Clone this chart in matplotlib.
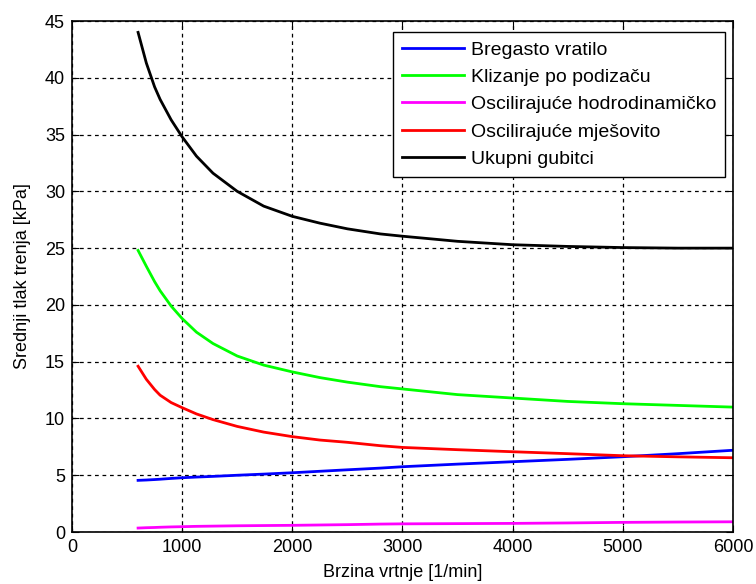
import matplotlib
matplotlib.use('Agg')
import matplotlib.pyplot as plt

plt.rcParams['font.family'] = ['Liberation Sans', 'DejaVu Sans']

rpm = [600, 675, 750, 800, 900, 1000, 1130, 1280, 1500, 1740, 2000, 2250, 2500, 2800,
       3000, 3500, 4000, 4500, 5000, 5500, 6000]

bregasto = [4.55, 4.58, 4.62, 4.65, 4.72, 4.78, 4.84, 4.9, 5.0, 5.1, 5.22, 5.35, 5.48, 5.63,
            5.75, 5.98, 6.19, 6.4, 6.63, 6.9, 7.2]
klizanje = [24.8, 23.4, 22.05, 21.25, 19.9, 18.8, 17.6, 16.6, 15.5, 14.7, 14.1, 13.6, 13.2, 12.8,
            12.6, 12.1, 11.8, 11.5, 11.3, 11.15, 11.0]
osc_hidro = [0.35, 0.38, 0.4, 0.42, 0.45, 0.47, 0.5, 0.52, 0.55, 0.57, 0.59, 0.62, 0.65, 0.7,
             0.72, 0.74, 0.76, 0.8, 0.85, 0.88, 0.9]
osc_mjes = [14.6, 13.45, 12.55, 12.05, 11.4, 10.95, 10.4, 9.9, 9.3, 8.8, 8.4, 8.1, 7.9, 7.6,
            7.45, 7.25, 7.07, 6.9, 6.72, 6.62, 6.54]
ukupno = [44.0, 41.3, 39.2, 38.1, 36.3, 34.8, 33.1, 31.6, 30.0, 28.7, 27.8, 27.2, 26.7, 26.25,
          26.05, 25.6, 25.3, 25.15, 25.05, 25.0, 25.0]

labels = ['Bregasto vratilo', 'Klizanje po podizaču', 'Oscilirajuće hodrodinamičko',
          'Oscilirajuće mješovito', 'Ukupni gubitci']
colors = ['#0000ff', '#00ff00', '#ff00ff', '#ff0000', '#000000']

fig = plt.figure(figsize=(7.56, 5.84), dpi=100)
ax = fig.add_axes([0.0952, 0.089, 0.8744, 0.875])

for y, lab, c in zip([bregasto, klizanje, osc_hidro, osc_mjes, ukupno], labels, colors):
    ax.plot(rpm, y, color=c, lw=2, label=lab)

ax.set_xlim(0, 6000)
ax.set_ylim(0, 45)
ax.set_xticks(range(0, 6001, 1000))
ax.set_yticks(range(0, 46, 5))
ax.grid(True, color='black', linestyle=(0, (3, 3)), linewidth=0.9)
ax.tick_params(direction='in', labelsize=13, length=5, pad=5, top=True, right=True)
for s in ax.spines.values():
    s.set_linewidth(1.2)
ax.set_xlabel('Brzina vrtnje [1/min]', fontsize=13, labelpad=6)
ax.set_ylabel('Srednji tlak trenja [kPa]', fontsize=13, labelpad=10)

leg = ax.legend(loc='upper right', bbox_to_anchor=(0.988, 0.978), borderaxespad=0,
                fontsize=14, fancybox=False, edgecolor='black', framealpha=1,
                handlelength=3.2, handletextpad=0.35, labelspacing=0.5, borderpad=0.45)
leg.get_frame().set_linewidth(1.0)

fig.savefig('out.png', dpi=100)
